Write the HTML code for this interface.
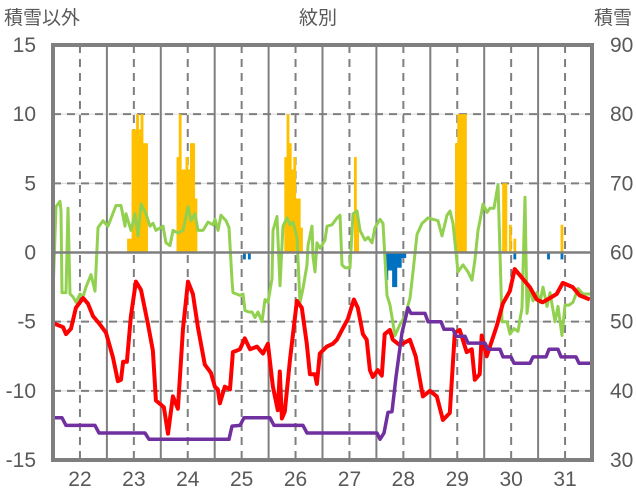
<!DOCTYPE html>
<html><head><meta charset="utf-8"><style>
body{margin:0;background:#fff;}
svg{display:block;font-family:"Liberation Sans","Noto Sans CJK JP",sans-serif;}
</style></head><body>
<svg id="chart" width="636" height="501" viewBox="0 0 636 501">
<rect width="636" height="501" fill="#fff"/>
<text x="318" y="24" text-anchor="middle" font-size="19" fill="#595959">紋別</text>
<text x="4" y="24" font-size="19" fill="#595959">積雪以外</text>
<text x="632" y="24" text-anchor="end" font-size="19" fill="#595959">積雪</text>
<g id="grid"></g>
<g id="bars"></g>
<g id="lines"></g>
<g id="axes"></g>
</svg>
<script>
const leftTicks=[15,10,5,0,-5,-10,-15];
const rightTicks=[90,80,70,60,50,40,30];
const dayLabels=[22,23,24,25,26,27,28,29,30,31];
const tempHours=[0,4.5,5.8,8,10.2,13.4,15.6,17.8,20.9,23.6,26.7,28.9,30.3,31.2,32.9,34.7,36.9,39.2,42.3,44.5,45.8,48.1,49.4,51.2,53.4,55.6,57.9,60.1,62.3,64.5,67.6,70.3,72.1,73.4,74.3,76.5,78.8,80.1,83.2,85.4,87.7,90.8,93.5,95.7,97.9,100.1,101,101.9,103.2,105.5,108.6,110.8,113,114.4,116.6,117.5,118.8,121.9,124.6,126.4,129,131.3,134,135.7,138,139.7,141.1,142.4,144.6,146.4,147.7,150,151.3,154.4,158.9,161.5,164.7,167.8,170.9,173.6,176.7,178.9,181.1,184.2,186.5,187.8,190,190.9,193.1,195.4,197.6,200.3,203.4,205.6,208.7,212.3,215.4,218,221.2,224.3,227,231.4,234.5,239];
const tempValues=[-5.1,-5.4,-5.9,-5.5,-4.0,-3.3,-3.7,-4.6,-5.2,-5.8,-7.6,-9.3,-9.2,-7.9,-7.9,-4.6,-2.1,-2.7,-5.2,-7.1,-10.7,-11.0,-11.2,-13.1,-10.4,-11.3,-5.5,-2.1,-3.0,-5.4,-8.1,-8.7,-9.7,-9.9,-10.9,-9.7,-9.9,-7.2,-7.0,-6.2,-7.0,-6.8,-7.3,-6.6,-9.7,-11.4,-8.6,-12.0,-11.5,-7.8,-3.5,-4.0,-6.6,-8.8,-8.8,-9.5,-7.3,-6.8,-6.6,-6.3,-5.5,-4.8,-3.4,-4.0,-5.9,-6.3,-8.5,-9.0,-8.5,-8.9,-5.9,-5.6,-6.3,-6.7,-6.3,-7.5,-10.4,-10.0,-10.4,-12.1,-11.6,-5.8,-5.6,-7.2,-7.0,-9.2,-8.8,-6.0,-7.5,-6.4,-5.3,-3.7,-2.8,-1.2,-1.8,-2.5,-3.4,-3.6,-3.3,-3.0,-2.2,-2.5,-3.1,-3.4];
const greenX=[53,56,60,61,62,66,68,70,73,76,80,83,86,91,95,98,103,108,116,121,125,126,131,135,138,141,146,150,153,156,163,166,170,173,178,183,188,191,195,198,203,208,213,215,218,221,226,229,232,233,240,243,245,249,252,255,258,262,265,268,272,273,277,280,283,287,290,293,297,300,303,307,308,312,313,315,317,320,325,327,332,337,340,342,345,350,353,357,360,365,368,372,375,380,383,387,390,395,400,405,410,413,417,422,425,428,433,438,442,447,450,453,458,463,468,472,475,478,480,483,487,490,494,498,502,507,510,514,518,522,525,527,530,533,537,540,543,547,550,555,558,562,565,569,573,578,583,590];
const greenValues=[-2.9,3.3,3.7,3.0,-2.9,-2.9,3.2,-3.0,-3.2,-3.6,-3.0,-3.2,-2.5,-1.6,-2.8,1.8,2.3,1.9,3.4,3.4,1.9,2.8,1.6,2.8,1.2,3.5,2.8,1.9,2.1,1.6,1.9,0.7,0.5,1.6,1.4,1.6,3.3,2.3,2.8,1.6,1.6,2.2,2.0,2.4,1.6,2.7,2.3,1.8,-2.0,-2.9,-3.1,-3.0,-4.2,-4.3,-4.3,-4.7,-4.3,-5.0,-3.4,-3.6,-1.9,1.6,2.6,-2.4,1.9,2.5,2.0,2.2,1.1,-3.6,-2.6,-0.9,0.5,1.9,-0.3,-1.4,0.7,0.3,0.9,1.9,2.0,2.5,2.7,-0.9,-1.1,-1.1,2.8,3.0,1.6,0.9,1.1,0.7,1.8,2.4,2.1,-3.1,-3.8,-6.0,-5.2,-4.6,-3.3,-1.4,1.3,2.1,2.3,2.5,2.4,2.3,1.2,2.7,3.0,2.1,-1.4,-0.9,-1.4,-2.0,-0.5,1.6,2.3,3.5,2.9,3.2,3.2,4.9,-5.0,-5.0,-5.9,-5.5,-5.7,-4.0,4.0,-4.4,-2.5,-3.5,-2.9,-3.6,-2.5,-3.9,-2.9,-5.0,-3.9,-6.0,-3.8,-3.8,-3.6,-2.6,-3.0,-3.0];
const snowX=[53,62,66,95,99,145,149,229,232,240,244,270,274,303,307,377,380,384,388,392,396,402,408,411,425,428,441,444,453,456,465,468,485,488,500,503,511,514,530,533,546,549,558,561,576,579,592];
const snowValues=[36.1,36.1,35.0,35.0,33.9,33.9,33.0,33.0,34.9,35.0,36.1,36.1,35.0,35.0,33.9,33.9,33.0,33.9,36.9,37.0,42,48.4,52,51.2,51.2,50.0,50.0,48.9,48.9,47.9,47.9,46.9,46.9,46.0,46.0,44.9,44.9,44.0,44.0,44.9,44.9,46.0,46.0,44.9,44.9,44.0,44.0];
const precipHours=[33,34,35,36,37,38,39,40,41,55,56,57,58,59,60,61,62,63,103,104,105,106,107,108,109,110,134,135,179,180,181,182,183,200,201,203,205,226];
const precipValues=[1,1,8.9,8.9,10,8.9,10,7.9,7.9,6.9,10,6.0,6.0,6.9,6.0,7.9,7.9,3.9,6.9,10,7.9,6.0,6.9,3.9,3.9,1.8,6.9,2.8,7.9,10,10,10,10,5,5,2.0,1.0,2.0];
const negHours=[84.6,86.8,148,149,150,151,152,153,154,155,156,205,220,226];
const negValues=[-0.5,-0.5,-2.0,-1.3,-1.3,-2.5,-2.5,-1.1,-1.1,-0.4,-0.4,-0.5,-0.5,-0.5];

const X0=53,X1=592,Y0=45,Y1=460,NS='http://www.w3.org/2000/svg';
const xh=h=>X0+h*(X1-X0)/240;
const xd=d=>X0+(d-21.5)*(X1-X0)/10;
const yl=v=>Y1-(v+15)*(Y1-Y0)/30;
const yr=v=>Y1-(v-30)*(Y1-Y0)/60;
function mk(tag,parent,attrs){const e=document.createElementNS(NS,tag);for(const k in attrs)e.setAttribute(k,attrs[k]);parent.appendChild(e);return e;}
const grid=document.getElementById('grid'),bars=document.getElementById('bars'),lines=document.getElementById('lines'),axes=document.getElementById('axes');
leftTicks.forEach(v=>{if(v===15||v===-15||v===0)return;
 const l=mk('line',grid,{x1:X0,x2:X1,y1:yl(v),y2:yl(v),stroke:'#d9d9d9','stroke-width':1});
 
 
 const d=mk('line',grid,{x1:X0,x2:X1,y1:yl(v),y2:yl(v),stroke:'#7f7f7f','stroke-width':2,'stroke-dasharray':'8,6'});
 
 });
dayLabels.forEach(d=>{
 const a=mk('line',grid,{x1:xd(d),x2:xd(d),y1:Y0,y2:Y1,stroke:'#7f7f7f','stroke-width':2,'stroke-dasharray':'8,6'});
 
 
 const b=mk('line',grid,{x1:xd(d+0.5),x2:xd(d+0.5),y1:Y0,y2:Y1,stroke:'#7f7f7f','stroke-width':2});
 
 
 const t=mk('text',axes,{x:xd(d),y:486,'text-anchor':'middle','font-size':21,fill:'#595959'});t.textContent=d;
 
 });
const bw=(X1-X0)/240+0.6;
precipHours.forEach((h,i)=>{const v=precipValues[i];
 const r=mk('rect',bars,{x:xh(h),y:yl(v),width:bw,height:yl(0)-yl(v),fill:'#ffc000'});
 
 });
negHours.forEach((h,i)=>{const v=negValues[i];
 const r=mk('rect',bars,{x:xh(h),y:yl(0),width:bw,height:yl(v)-yl(0),fill:'#0070c0'});
 
 });
const z=mk('line',axes,{x1:X0,x2:X1,y1:yl(0),y2:yl(0),stroke:'#7f7f7f','stroke-width':2.5});


function poly(xs,ys,col,w,name){const p=mk('polyline',lines,{points:xs.map((x,i)=>x.toFixed(1)+','+ys[i].toFixed(1)).join(' '),fill:'none',stroke:col,'stroke-width':w,'stroke-linejoin':'round'});
 
 }
poly(greenX,greenValues.map(yl),'#92d050',3,'green-series-line');
poly(tempHours.map(xh),tempValues.map(yl),'#ff0000',4,'temperature-line');
poly(snowX,snowValues.map(yr),'#7030a0',3.5,'snow-depth-line');
const fr=mk('rect',axes,{x:X0,y:Y0,width:X1-X0,height:Y1-Y0,fill:'none',stroke:'#7f7f7f','stroke-width':4});


leftTicks.forEach(v=>{const t=mk('text',axes,{x:36,y:yl(v)+7,'text-anchor':'end','font-size':21,fill:'#595959'});t.textContent=v;
 
 });
rightTicks.forEach(v=>{const t=mk('text',axes,{x:610,y:yr(v)+7,'font-size':21,fill:'#595959'});t.textContent=v;
 
 });
</script>
</body></html>
